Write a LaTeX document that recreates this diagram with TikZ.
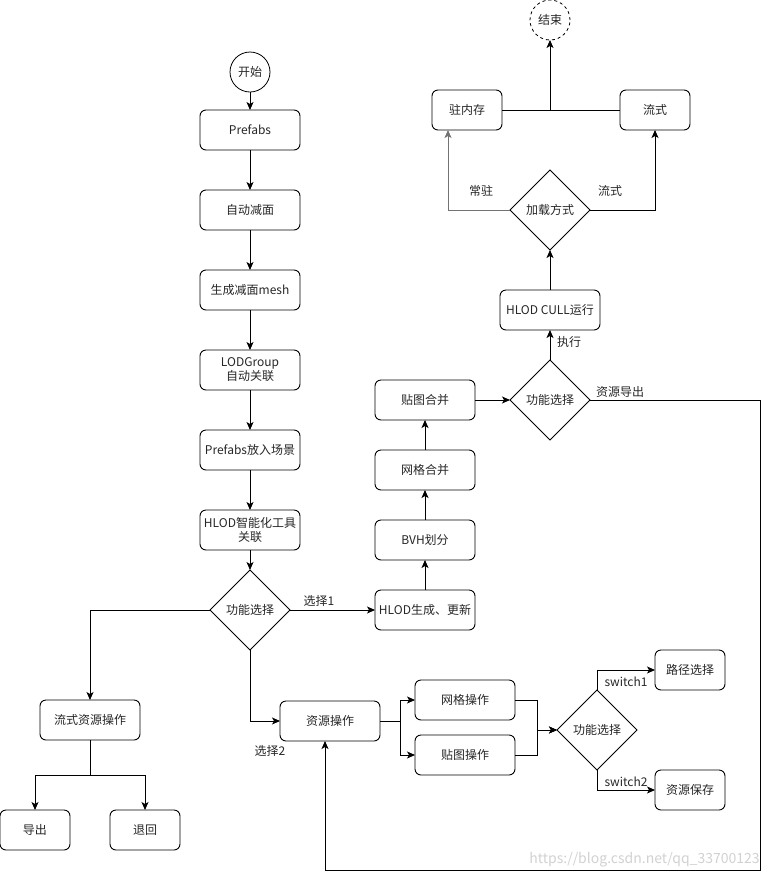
\documentclass[tikz,border=0pt]{standalone}
\usepackage{fontspec}
\setmainfont{Noto Sans CJK SC}
\usepackage{tikz}
\usetikzlibrary{arrows.meta,positioning,shapes.geometric}

\begin{document}
\begin{tikzpicture}[
  x=1pt,y=-1pt,
  node distance=40pt and 40pt,
  every node/.style={text=black!85,font=\fontsize{12}{14}\selectfont,outer sep=0pt},
  box/.style={draw,rounded corners=6pt,align=center,minimum width=100pt,
              minimum height=40pt,inner sep=1pt,line width=0.9pt},
  sbox/.style={box,minimum width=70pt},
  choice/.style={draw,diamond,minimum size=80pt,inner sep=0pt,line width=0.8pt},
  term/.style={draw,circle,minimum size=40pt,inner sep=0pt,line width=0.8pt},
  flow/.style={-{Stealth[length=8pt,width=7pt,inset=2pt]},line width=0.9pt},
  link/.style={line width=0.9pt}
]
\useasboundingbox (0,0) rectangle (769,879);

% main column
\node[term] (start) at (250,72) {开始};
\node[box,below=18pt of start] (prefabs) {Prefabs};
\node[box,below=of prefabs] (reduce) {自动减面};
\node[box,below=of reduce] (mesh) {生成减面mesh};
\node[box,below=of mesh] (lodgroup) {LODGroup\\自动关联};
\node[box,below=of lodgroup] (place) {Prefabs放入场景};
\node[box,below=of place] (hlodtool) {HLOD智能化工具\\关联};
\node[choice,below=20pt of hlodtool] (pick) {功能选择};

% HLOD branch
\node[box,right=85pt of pick] (hlodgen) {HLOD生成、更新};
\node[box,above=30pt of hlodgen] (bvh) {BVH划分};
\node[box,above=30pt of bvh] (meshmerge) {网格合并};
\node[box,above=30pt of meshmerge] (texmerge) {贴图合并};
\node[choice,right=35pt of texmerge] (pickrun) {功能选择};
\node[box,above=30pt of pickrun] (cull) {HLOD CULL运行};
\node[choice,above=of cull] (load) {加载方式};
\node[sbox] (resident) at (467,110) {驻内存};
\node[sbox] (stream) at (655,110) {流式};
\node[term,dashed] (finish) at (550,20) {结束};

% stream resource branch
\node[box] (streamops) at (90,720) {流式资源操作};
\node[sbox] (export) at (35,830) {导出};
\node[sbox] (back) at (145,830) {退回};

% resource branch
\node[box] (resops) at (330,721) {资源操作};
\node[box] (meshops) at (465,700) {网格操作};
\node[box] (texops) at (465,755) {贴图操作};
\node[choice] (picksave) at (597,730) {功能选择};
\node[sbox] (path) at (690,670) {路径选择};
\node[sbox] (save) at (690,790) {资源保存};

\coordinate (loopR) at (760,870);

\draw[flow] (start) -- (prefabs);
\draw[flow] (prefabs) -- (reduce);
\draw[flow] (reduce) -- (mesh);
\draw[flow] (mesh) -- (lodgroup);
\draw[flow] (lodgroup) -- (place);
\draw[flow] (place) -- (hlodtool);
\draw[flow] (hlodtool) -- (pick);

\draw[flow] (pick) -- (hlodgen);
\draw[flow] (hlodgen) -- (bvh);
\draw[flow] (bvh) -- (meshmerge);
\draw[flow] (meshmerge) -- (texmerge);
\draw[flow] (texmerge) -- (pickrun);
\draw[flow] (pickrun) -- (cull);
\draw[flow] (cull) -- (load);
\draw[flow,draw=black!55] (load.west) -| ([xshift=-19pt]resident.south);
\draw[flow] (load.east) -| (stream.south);
\draw[link] (resident) -- (stream);
\draw[flow] (resident.east -| finish) -- (finish);
\draw[flow] (pickrun.east) -| (loopR) -| ([xshift=-5pt]resops.south);

\draw[flow] (pick.west) -| (streamops.north);
\draw[flow] (streamops.south) -- ++(0,35) -| (export.north);
\draw[flow] (streamops.south) -- ++(0,35) -| (back.north);

\draw[flow] (pick.south) |- (resops.west);
\draw[flow] (resops.east) -- ++(20,0) |- (meshops.west);
\draw[flow] (resops.east) -- ++(20,0) |- (texops.west);
\draw[flow] (meshops.east) -- ++(22,0) |- (picksave.west);
\draw[flow] (texops.east) -- ++(22,0) |- (picksave.west);
\draw[flow] (picksave.north) |- (path.west);
\draw[flow] (picksave.south) |- (save.west);

% edge labels
\node at (319,601) {选择1};
\node at (270,751) {选择2};
\node at (569,342) {执行};
\node at (620,392) {资源导出};
\node at (481,191) {常驻};
\node at (610,191) {流式};
\node at (626,682) {switch1};
\node at (626,782) {switch2};
\node[anchor=east,text=black!18,font=\fontsize{14}{16}\selectfont] (mark) at (763,860) {https://blog.csdn.net/qq\_33700123};
\end{tikzpicture}
\end{document}
